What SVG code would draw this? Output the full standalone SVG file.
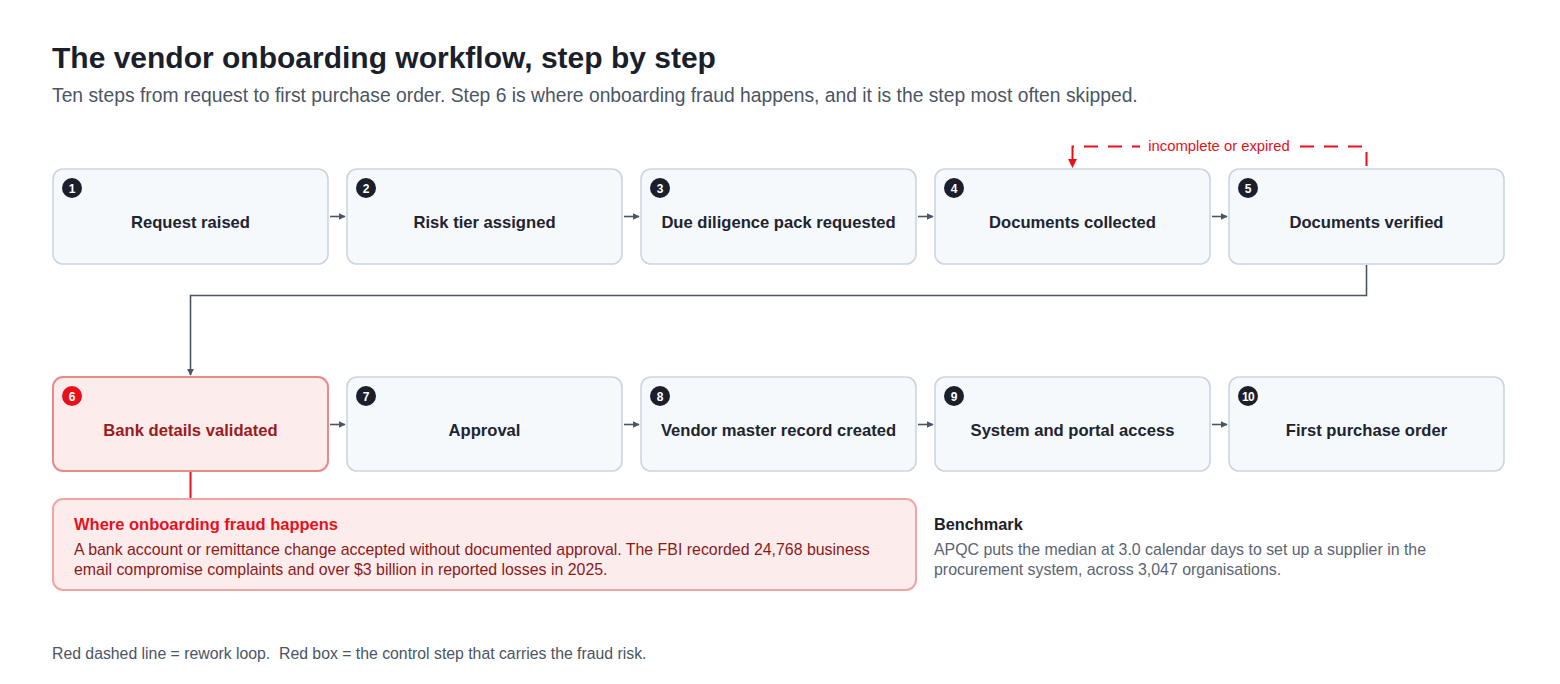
<svg xmlns="http://www.w3.org/2000/svg" width="1560" height="684" viewBox="0 0 1560 684">
<style>
text{font-family:"Liberation Sans",Arial,sans-serif}
.box{fill:#f5f9fc;stroke:#cbd5e1;stroke-width:1.6}
.lbl{font-size:16.6px;font-weight:bold;fill:#1e2430;text-anchor:middle}
.bd{fill:#1a1f2b}
.bn{font-size:12px;font-weight:bold;fill:#fff;text-anchor:middle}
.ar{stroke:#4b5563;stroke-width:1.6;fill:none}
</style>
<defs>
<marker id="ah" viewBox="0 0 10 10" refX="9" refY="5" markerWidth="7" markerHeight="7" orient="auto" markerUnits="userSpaceOnUse"><path d="M0,0L10,5L0,10z" fill="#4b5563"/></marker>
<marker id="ahr" viewBox="0 0 10 10" refX="9" refY="5" markerWidth="9" markerHeight="9" orient="auto" markerUnits="userSpaceOnUse"><path d="M0,0L10,5L0,10z" fill="#e8101a"/></marker>
</defs>
<rect width="1560" height="684" fill="#fff"/>
<text x="52" y="68" font-size="30" font-weight="bold" fill="#1a1f2b">The vendor onboarding workflow, step by step</text>
<text x="52" y="102" font-size="19.3" fill="#4b5563">Ten steps from request to first purchase order. Step 6 is where onboarding fraud happens, and it is the step most often skipped.</text>

<g id="connectors">
<path class="ar" d="M330,216.5H345" marker-end="url(#ah)"/>
<path class="ar" d="M624,216.5H639" marker-end="url(#ah)"/>
<path class="ar" d="M918,216.5H933" marker-end="url(#ah)"/>
<path class="ar" d="M1212,216.5H1227" marker-end="url(#ah)"/>
<path class="ar" d="M330,424.5H345" marker-end="url(#ah)"/>
<path class="ar" d="M624,424.5H639" marker-end="url(#ah)"/>
<path class="ar" d="M918,424.5H933" marker-end="url(#ah)"/>
<path class="ar" d="M1212,424.5H1227" marker-end="url(#ah)"/>
<path class="ar" d="M1366.5,265V295.5H190.5V375" marker-end="url(#ah)"/>
<path d="M1366.5,166V146.5H1072.5V167" fill="none" stroke="#e8101a" stroke-width="2" stroke-dasharray="14 10" marker-end="url(#ahr)"/>
<rect x="1140" y="136" width="158" height="20" fill="#fff"/>
<text x="1219" y="151" font-size="14.8" fill="#e8101a" text-anchor="middle">incomplete or expired</text>
<path d="M190.5,472V498" stroke="#e8101a" stroke-width="2"/>
</g>

<g id="n1"><rect class="box" x="53" y="169" width="275" height="95" rx="10"/><circle class="bd" cx="72" cy="188" r="10"/><text class="bn" x="72" y="192.5">1</text><text class="lbl" x="190.5" y="228">Request raised</text></g>
<g id="n2"><rect class="box" x="347" y="169" width="275" height="95" rx="10"/><circle class="bd" cx="366" cy="188" r="10"/><text class="bn" x="366" y="192.5">2</text><text class="lbl" x="484.5" y="228">Risk tier assigned</text></g>
<g id="n3"><rect class="box" x="641" y="169" width="275" height="95" rx="10"/><circle class="bd" cx="660" cy="188" r="10"/><text class="bn" x="660" y="192.5">3</text><text class="lbl" x="778.5" y="228">Due diligence pack requested</text></g>
<g id="n4"><rect class="box" x="935" y="169" width="275" height="95" rx="10"/><circle class="bd" cx="954" cy="188" r="10"/><text class="bn" x="954" y="192.5">4</text><text class="lbl" x="1072.5" y="228">Documents collected</text></g>
<g id="n5"><rect class="box" x="1229" y="169" width="275" height="95" rx="10"/><circle class="bd" cx="1248" cy="188" r="10"/><text class="bn" x="1248" y="192.5">5</text><text class="lbl" x="1366.5" y="228">Documents verified</text></g>

<g id="n6"><rect x="53" y="377" width="275" height="94" rx="10" fill="#fdecec" stroke="#e88a8a" stroke-width="2"/><circle cx="72" cy="396" r="10" fill="#e8101a"/><text class="bn" x="72" y="400.5">6</text><text class="lbl" x="190.5" y="436" style="fill:#9b1c1c">Bank details validated</text></g>
<g id="n7"><rect class="box" x="347" y="377" width="275" height="94" rx="10"/><circle class="bd" cx="366" cy="396" r="10"/><text class="bn" x="366" y="400.5">7</text><text class="lbl" x="484.5" y="436">Approval</text></g>
<g id="n8"><rect class="box" x="641" y="377" width="275" height="94" rx="10"/><circle class="bd" cx="660" cy="396" r="10"/><text class="bn" x="660" y="400.5">8</text><text class="lbl" x="778.5" y="436">Vendor master record created</text></g>
<g id="n9"><rect class="box" x="935" y="377" width="275" height="94" rx="10"/><circle class="bd" cx="954" cy="396" r="10"/><text class="bn" x="954" y="400.5">9</text><text class="lbl" x="1072.5" y="436">System and portal access</text></g>
<g id="n10"><rect class="box" x="1229" y="377" width="275" height="94" rx="10"/><circle class="bd" cx="1248" cy="396" r="10"/><text class="bn" x="1248" y="400.5" style="letter-spacing:-0.6px">10</text><text class="lbl" x="1366.5" y="436">First purchase order</text></g>

<g id="fraud-note">
<rect x="53" y="499" width="863" height="91" rx="10" fill="#fdecec" stroke="#f0a5a5" stroke-width="2"/>
<text x="74" y="530" font-size="16.5" font-weight="bold" fill="#e8101a">Where onboarding fraud happens</text>
<text x="74" y="555" font-size="15.9" fill="#8b1a1a">A bank account or remittance change accepted without documented approval. The FBI recorded 24,768 business</text>
<text x="74" y="575" font-size="15.9" fill="#8b1a1a">email compromise complaints and over $3 billion in reported losses in 2025.</text>
</g>

<g id="benchmark">
<text x="934" y="530" font-size="16.3" font-weight="bold" fill="#1a1f2b">Benchmark</text>
<text x="934" y="555" font-size="15.9" fill="#5b6473">APQC puts the median at 3.0 calendar days to set up a supplier in the</text>
<text x="934" y="575" font-size="15.9" fill="#5b6473">procurement system, across 3,047 organisations.</text>
</g>

<text x="52" y="659" font-size="15.8" fill="#4b5563" xml:space="preserve">Red dashed line = rework loop.  Red box = the control step that carries the fraud risk.</text>
</svg>
